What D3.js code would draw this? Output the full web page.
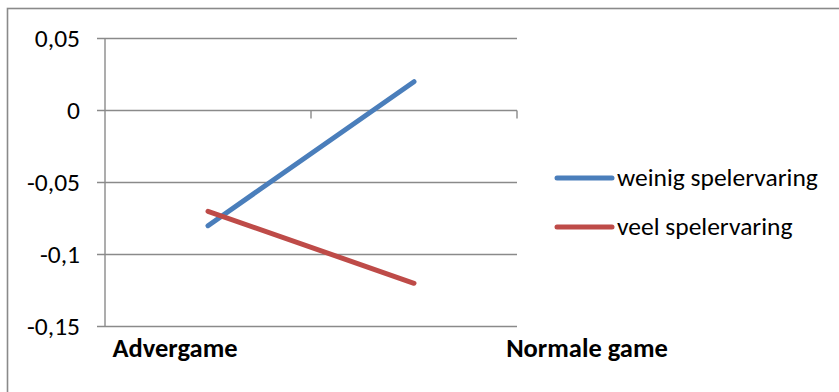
<!DOCTYPE html>
<html>
<head>
<meta charset="utf-8">
<script src="https://cdn.jsdelivr.net/npm/d3@7"></script>
<style>
  html, body { margin: 0; padding: 0; background: #fff; }
  svg { display: block; }
  text { font-family: Carlito, Calibri, Lato, sans-serif; fill: #000; }
</style>
</head>
<body>
<svg id="chart" width="839" height="392"></svg>
<script>
// Categories and series
const categories = ["Advergame", "Normale game"];
const seriesNames = ["weinig spelervaring", "veel spelervaring"];
const weinigValues = [-0.08, 0.02];
const veelValues = [-0.07, -0.12];
const yTicks = [0.05, 0, -0.05, -0.1, -0.15];
const seriesColors = ["#4a7ebb", "#be4b48"];

const series = [
  { name: seriesNames[0], values: weinigValues, color: seriesColors[0] },
  { name: seriesNames[1], values: veelValues, color: seriesColors[1] }
];

const svg = d3.select("#chart");
const W = 839, H = 392;
const gridColor = "#8a8a8a";

// chart frame
svg.append("rect")
  .attr("x", 7.5).attr("y", 8.5)
  .attr("width", W + 20).attr("height", H + 20)
  .attr("fill", "none").attr("stroke", gridColor).attr("stroke-width", 1.6);

const plot = { left: 105, right: 517, top: 38.5, bottom: 326.5 };

const y = d3.scaleLinear().domain([-0.15, 0.05]).range([plot.bottom, plot.top]);
const x = d3.scaleBand().domain(categories).range([plot.left, plot.right]);
const xc = d => x(d) + x.bandwidth() / 2;
// category labels sit below the plot
const xLabel = d3.scalePoint().domain(categories).range([175, 587]);

const fmt = v => (v === 0 ? "0" : String(+v.toFixed(2)).replace(".", ","));

// horizontal gridlines with left tick marks
svg.append("g").selectAll("line").data(yTicks).join("line")
  .attr("x1", plot.left - 8).attr("x2", plot.right)
  .attr("y1", d => y(d)).attr("y2", d => y(d))
  .attr("stroke", gridColor).attr("stroke-width", 1.4);

// y axis line
svg.append("line")
  .attr("x1", plot.left).attr("x2", plot.left)
  .attr("y1", y(0.05)).attr("y2", y(-0.15))
  .attr("stroke", gridColor).attr("stroke-width", 1.4);

// category boundary ticks on the zero line
const bounds = [plot.left + x.bandwidth(), plot.right];
svg.append("g").selectAll("line").data(bounds).join("line")
  .attr("x1", d => d).attr("x2", d => d)
  .attr("y1", y(0)).attr("y2", y(0) + 8)
  .attr("stroke", gridColor).attr("stroke-width", 1.4);

// y tick labels
svg.append("g").selectAll("text").data(yTicks).join("text")
  .attr("x", 80).attr("y", d => y(d))
  .attr("dy", "0.35em")
  .attr("text-anchor", "end")
  .attr("font-size", 25.5)
  .text(fmt);

// category labels
svg.append("g").selectAll("text").data(categories).join("text")
  .attr("x", d => xLabel(d)).attr("y", 357)
  .attr("text-anchor", "middle")
  .attr("font-size", 26.5).attr("font-weight", "bold")
  .text(d => d);

// series lines
const line = d3.line().x((d, i) => xc(categories[i])).y(d => y(d));
svg.append("g").selectAll("path").data(series).join("path")
  .attr("d", d => line(d.values))
  .attr("fill", "none")
  .attr("stroke", d => d.color)
  .attr("stroke-width", 5)
  .attr("stroke-linecap", "round");

// legend
const legend = svg.append("g").selectAll("g").data(series).join("g")
  .attr("transform", (d, i) => `translate(557, ${178 + i * 49})`);
legend.append("line")
  .attr("x1", 0).attr("x2", 55)
  .attr("stroke", d => d.color).attr("stroke-width", 5)
  .attr("stroke-linecap", "round");
legend.append("text")
  .attr("x", 60).attr("y", 0).attr("dy", "0.32em")
  .attr("font-size", 25.5)
  .text(d => d.name);
</script>
</body>
</html>
